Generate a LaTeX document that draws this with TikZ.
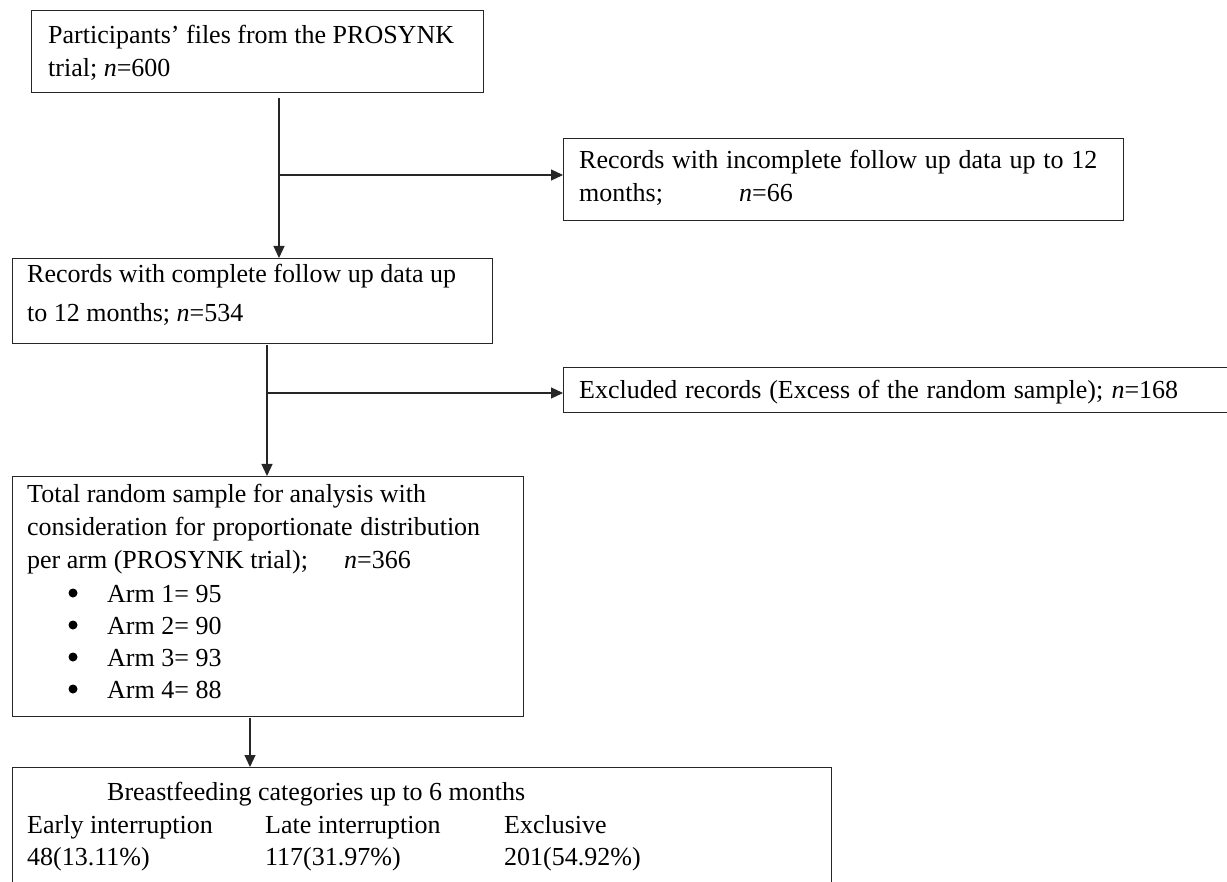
\documentclass[tikz,border=0pt]{standalone}
\usepackage{fontspec}
\setmainfont{Liberation Serif}
\usetikzlibrary{arrows.meta}
\begin{document}
\begin{tikzpicture}[x=1pt,y=-1pt,
  box/.style={draw=black!85, line width=1.1pt, inner sep=0pt, anchor=north west},
  txt/.style={inner sep=0pt, anchor=base west, font=\fontsize{26pt}{32pt}\selectfont},
  bul/.style={circle, fill=black, inner sep=0pt, minimum size=9pt},
  arr/.style={draw=black!85, line width=1.2pt, -{Triangle[length=12pt,width=11pt]}}]
\clip (0,0) rectangle (1227,882);
\fill[white] (0,0) rectangle (1227,882);

% boxes
\node[box, minimum width=452pt, minimum height=82pt] (b1) at (31,10) {};
\node[box, minimum width=560pt, minimum height=82pt] (inc) at (563,138) {};
\node[box, minimum width=480pt, minimum height=85pt] (b2) at (12,258) {};
\node[box, minimum width=700pt, minimum height=45pt] (exc) at (563,367) {};
\node[box, minimum width=511pt, minimum height=240pt] (b3) at (12,476) {};
\node[box, minimum width=819pt, minimum height=200pt] (b4) at (12,767) {};

% texts
\node[txt] (t1a) at (48,44) {Participants’ files from the PROSYNK};
\node[txt] (t1b) at (48,77) {trial; \textit{n}=600};

\node[txt] (tia) at (579,169) {\makebox[518pt][s]{Records with incomplete follow up data up to 12}};
\node[txt] (tib) at (579,202) {months;};
\node[txt] (tic) at (739,202) {\textit{n}=66};

\node[txt] (t2a) at (27,283) {\makebox[429pt][s]{Records with complete follow up data up}};
\node[txt] (t2b) at (27,322) {to 12 months; \textit{n}=534};

\node[txt] (tex) at (579,399) {\makebox[599pt][s]{Excluded records (Excess of the random sample); \textit{n}=168}};

\node[txt] (t3a) at (27,503) {Total random sample for analysis with};
\node[txt] (t3b) at (27,536) {\makebox[453pt][s]{consideration for proportionate distribution}};
\node[txt] (t3c) at (27,568) {per arm (PROSYNK trial);};
\node[txt] (t3d) at (344,568) {\textit{n}=366};
\node[bul] (u1) at (73,593) {};
\node[txt] (a1) at (107,602) {Arm 1= 95};
\node[bul] (u2) at (73,625) {};
\node[txt] (a2) at (107,634) {Arm 2= 90};
\node[bul] (u3) at (73,657) {};
\node[txt] (a3) at (107,666) {Arm 3= 93};
\node[bul] (u4) at (73,689) {};
\node[txt] (a4) at (107,698) {Arm 4= 88};

\node[txt] (t4a) at (107,800) {Breastfeeding categories up to 6 months};
\node[txt] (c1a) at (27,833) {Early interruption};
\node[txt] (c2a) at (265,833) {Late interruption};
\node[txt] (c3a) at (504,833) {Exclusive};
\node[txt] (c1b) at (27,865) {48(13.11\%)};
\node[txt] (c2b) at (265,865) {117(31.97\%)};
\node[txt] (c3b) at (504,865) {201(54.92\%)};

% connectors
\coordinate (s1) at (279,98);
\draw[arr] (s1) -- (s1 |- b2.north);
\coordinate (j1) at (279,175);
\draw[arr] (j1) -- (j1 -| inc.west);
\coordinate (s2) at (267,345);
\draw[arr] (s2) -- (s2 |- b3.north);
\coordinate (j2) at (267,393);
\draw[arr] (j2) -- (j2 -| exc.west);
\coordinate (s3) at (250,718);
\draw[arr] (s3) -- (s3 |- b4.north);
\end{tikzpicture}
\end{document}
